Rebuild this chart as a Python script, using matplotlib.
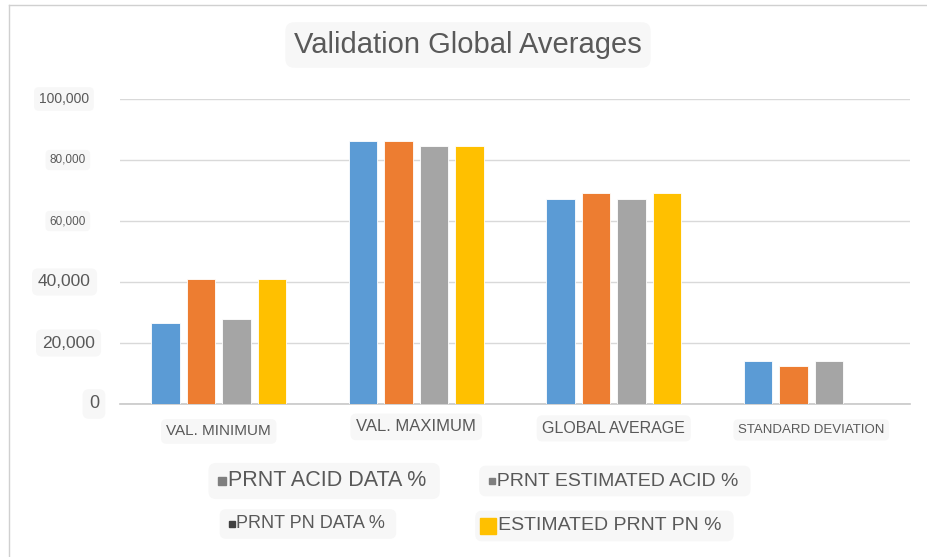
import matplotlib.pyplot as plt
import numpy as np
from matplotlib.lines import Line2D

categories = ["VAL. MINIMUM", "VAL. MAXIMUM", "GLOBAL AVERAGE", "STANDARD DEVIATION"]
series_names = ["PRNT ACID DATA %", "PRNT ESTIMATED ACID %", "PRNT PN DATA %", "ESTIMATED PRNT PN %"]
acid_data = [26500, 86200, 67200, 14200]
est_acid = [41000, 86200, 69100, 12500]
pn_data = [27800, 84600, 67200, 14200]
est_pn = [41000, 84600, 69100, 0]
yticks = [0, 20000, 40000, 60000, 80000, 100000]
ytick_sizes = [13, 12.5, 12.5, 8.5, 8.5, 10]
ytick_right = [99, 95, 91, 86, 86, 89]

colors = ["#5b9bd5", "#ed7d31", "#a5a5a5", "#ffc000"]
txt = "#595959"
box = dict(boxstyle="round,pad=0.35", facecolor="#f7f7f7", edgecolor="none")

plt.rcParams["font.family"] = ["Liberation Sans", "DejaVu Sans"]

fig = plt.figure(figsize=(9.28, 5.57), dpi=100)
ax = fig.add_axes([120 / 928, 1 - 404 / 557, 790 / 928, 305 / 557])

x = np.arange(len(categories))
step = 0.18
width = 0.145
for i, vals in enumerate([acid_data, est_acid, pn_data, est_pn]):
    ax.bar(x + (i - 1.5) * step, vals, width, color=colors[i],
           edgecolor="white", linewidth=0.6, zorder=3)

ax.set_xlim(-0.5, 3.5)
ax.set_ylim(0, 100000)
ax.set_yticks(yticks)
ax.set_yticklabels([])
ax.set_xticks([])
ax.grid(axis="y", color="#d9d9d9", linewidth=1, zorder=0)
for s in ["top", "right", "left"]:
    ax.spines[s].set_visible(False)
ax.spines["bottom"].set_color("#c8c8c8")
ax.spines["bottom"].set_linewidth(1.2)
ax.tick_params(length=0)

# y tick labels with varying sizes
for v, fs, xr in zip(yticks, ytick_sizes, ytick_right):
    ax.text((xr - 120) / 790, v, f"{v:,}", transform=ax.get_yaxis_transform(),
            ha="right", va="center", fontsize=fs, color=txt, bbox=box)

# category labels
cat_sizes = [11, 12, 11.5, 9.5]
cat_y = [-0.09, -0.075, -0.08, -0.085]
for xi, (lab, fs, yy) in enumerate(zip(categories, cat_sizes, cat_y)):
    ax.text(xi, yy, lab, transform=ax.get_xaxis_transform(), ha="center",
            va="center", fontsize=fs, color=txt, bbox=box)

fig.text(468 / 928, 1 - 45 / 557, "Validation Global Averages", ha="center",
         va="center", fontsize=21, color=txt,
         bbox=dict(boxstyle="round,pad=0.3", facecolor="#f7f7f7", edgecolor="none"))

# legend, drawn as text the way it appears
leg = [(216, 481, 15.5, "#7f7f7f", 6, 6), (486, 481, 14, "#7f7f7f", 5, 6),
       (226, 524, 13, "#404040", 4.5, 6), (482, 526, 14, colors[3], 11, 6)]
for name, (lx, ly, fs, mc, ms, mo) in zip(series_names, leg):
    pad = "   " if ms > 8 else "  "
    fig.text(lx / 928, 1 - ly / 557, pad + name + " ", ha="left", va="center",
             fontsize=fs, color=txt, bbox=box, zorder=3)
    fig.add_artist(Line2D([(lx + mo) / 928], [1 - ly / 557], marker="s",
                          markersize=ms, color=mc, linestyle="none", zorder=5))

# frame edges of the pasted picture
fig.add_artist(Line2D([9 / 928, 9 / 928], [0, 1 - 5 / 557], color="#d0d0d0", linewidth=1))
fig.add_artist(Line2D([9 / 928, 1], [1 - 5 / 557, 1 - 5 / 557], color="#d0d0d0", linewidth=1))

fig.savefig("out.png", dpi=100)
